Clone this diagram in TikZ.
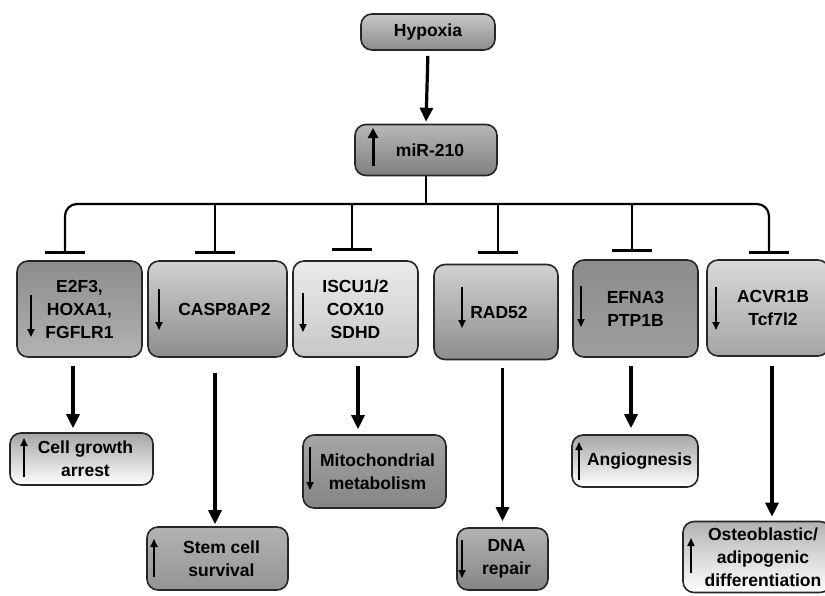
\documentclass[tikz,border=0pt]{standalone}
\usepackage{fontspec}
\setmainfont{Liberation Sans}
\usetikzlibrary{arrows.meta,calc}
\begin{document}
\begin{tikzpicture}[x=1pt,y=-1pt,
  box/.style={draw=black!85, line width=1.6pt, rounded corners=11pt, align=center,
    font=\fontsize{17.5}{23}\selectfont\bfseries, inner sep=2pt},
  arr/.style={line width=3.2pt, -{Triangle[length=14pt,width=13pt]}},
  busl/.style={line width=2.2pt},
  tbar/.style={line width=3pt},
  upthick/.style={line width=3pt, -{Triangle[length=10pt,width=10pt]}},
  small/.style={line width=1.7pt, -{Triangle[length=8pt,width=7pt]}}
]
\useasboundingbox[fill=white] (0,0) rectangle (825,595);

% top
\node[box, top color=black!22, bottom color=black!45, minimum width=134pt, minimum height=36pt] (hyp) at (428,32) {Hypoxia};
\node[box, top color=black!28, bottom color=black!50, minimum width=142pt, minimum height=51pt] (mir) at (426,150) {\hspace*{8pt}miR-210};

% middle row
\node[box, top color=black!45, bottom color=black!30, minimum width=125pt, minimum height=96pt] (e2f) at (79.5,309) {E2F3,\\HOXA1,\\FGFLR1};
\node[box, top color=black!18, bottom color=black!45, minimum width=139pt, minimum height=96pt] (casp) at (217.5,309) {\hspace*{14pt}CASP8AP2};
\node[box, top color=black!8, bottom color=black!22, minimum width=125pt, minimum height=96pt] (iscu) at (355.5,309) {ISCU1/2\\COX10\\SDHD};
\node[box, top color=black!18, bottom color=black!45, minimum width=124pt, minimum height=95pt] (rad) at (496,312) {\hspace*{6pt}RAD52};
\node[box, top color=black!45, bottom color=black!38, minimum width=125pt, minimum height=97pt] (efna) at (635.5,308.5) {EFNA3\\PTP1B};
\node[box, top color=black!15, bottom color=black!35, minimum width=122pt, minimum height=96pt] (acvr) at (768,308) {\hspace*{10pt}ACVR1B\\\hspace*{10pt}Tcf7l2};

% bottom row
\node[box, top color=black!35, bottom color=white, minimum width=143pt, minimum height=52pt] (cga) at (81.5,459) {\hspace*{8pt}Cell growth\\\hspace*{8pt}arrest};
\node[box, top color=black!30, bottom color=black!42, minimum width=141pt, minimum height=63pt] (stem) at (217.5,558.5) {\hspace*{8pt}Stem cell\\\hspace*{8pt}survival};
\node[box, top color=black!35, bottom color=black!48, minimum width=143pt, minimum height=73pt] (mito) at (374.5,471.5) {\hspace*{6pt}Mitochondrial\\\hspace*{6pt}metabolism};
\node[box, top color=black!30, bottom color=black!48, minimum width=91pt, minimum height=62pt] (dna) at (502.5,559) {\hspace*{8pt}DNA\\\hspace*{8pt}repair};
\node[box, top color=black!35, bottom color=white, minimum width=126pt, minimum height=52pt] (angio) at (635,461) {\hspace*{9pt}Angiognesis};
\node[box, top color=black!30, bottom color=white, minimum width=148pt, minimum height=71pt] (osteo) at (757,557) {\hspace*{12pt}Osteoblastic/\\\hspace*{12pt}adipogenic\\\hspace*{12pt}differentiation};

% hypoxia -> miR-210
\draw[arr, shorten <=5pt, shorten >=2pt] (hyp.south) -- (mir.north);

% inhibition bus
\coordinate (bus) at (426,204);
\coordinate (tA) at (65,252);
\coordinate (tB) at (215,252);
\coordinate (tC) at (352,249);
\coordinate (tD) at (498,252);
\coordinate (tE) at (632,250);
\coordinate (tF) at (769,252);
\draw[busl] (mir.south) -- (bus);
\draw[busl, rounded corners=12pt] (tA) -- (tA |- bus) -- (tF |- bus) -- (tF);
\foreach \t in {tB,tC,tD,tE} \draw[busl] (\t |- bus) -- (\t);
\foreach \t in {tA,tB,tC,tD,tE,tF} \draw[tbar] ([xshift=-20pt]\t) -- ([xshift=20pt]\t);

% downstream arrows
\draw[arr, shorten <=8pt, shorten >=4pt] ([xshift=-6.5pt]e2f.south) -- ([xshift=-6.5pt]e2f.south |- cga.north);
\draw[arr, shorten <=15pt, shorten >=2pt] ([xshift=-2.5pt]casp.south) -- ([xshift=-2.5pt]casp.south |- stem.north);
\draw[arr, shorten <=8pt, shorten >=5pt] ([xshift=2.5pt]iscu.south) -- ([xshift=2.5pt]iscu.south |- mito.north);
\draw[arr, shorten <=8pt, shorten >=6pt] (dna.north |- rad.south) -- (dna.north);
\draw[arr, shorten <=8pt, shorten >=6pt] ([xshift=-4.5pt]efna.south) -- ([xshift=-4.5pt]efna.south |- angio.north);
\draw[arr, shorten <=9pt, shorten >=4pt] ([xshift=4pt]acvr.south) -- ([xshift=4pt]acvr.south |- osteo.north);

% up / down indicator arrows
\draw[upthick] (373,166) -- (373,128);
\draw[small] (31,295) -- (31,337);
\draw[small] (159,289) -- (159,330);
\draw[small] (303,293) -- (303,332);
\draw[small] (462,287) -- (462,328);
\draw[small] (581,286) -- (581,327);
\draw[small] (716,287) -- (716,330);
\draw[small] (24,477) -- (24,438);
\draw[small] (154,577) -- (154,539);
\draw[small] (310,447) -- (310,490);
\draw[small] (462,540) -- (462,578);
\draw[small] (579,480) -- (579,442);
\draw[small] (691,573) -- (691,538);
\end{tikzpicture}
\end{document}
